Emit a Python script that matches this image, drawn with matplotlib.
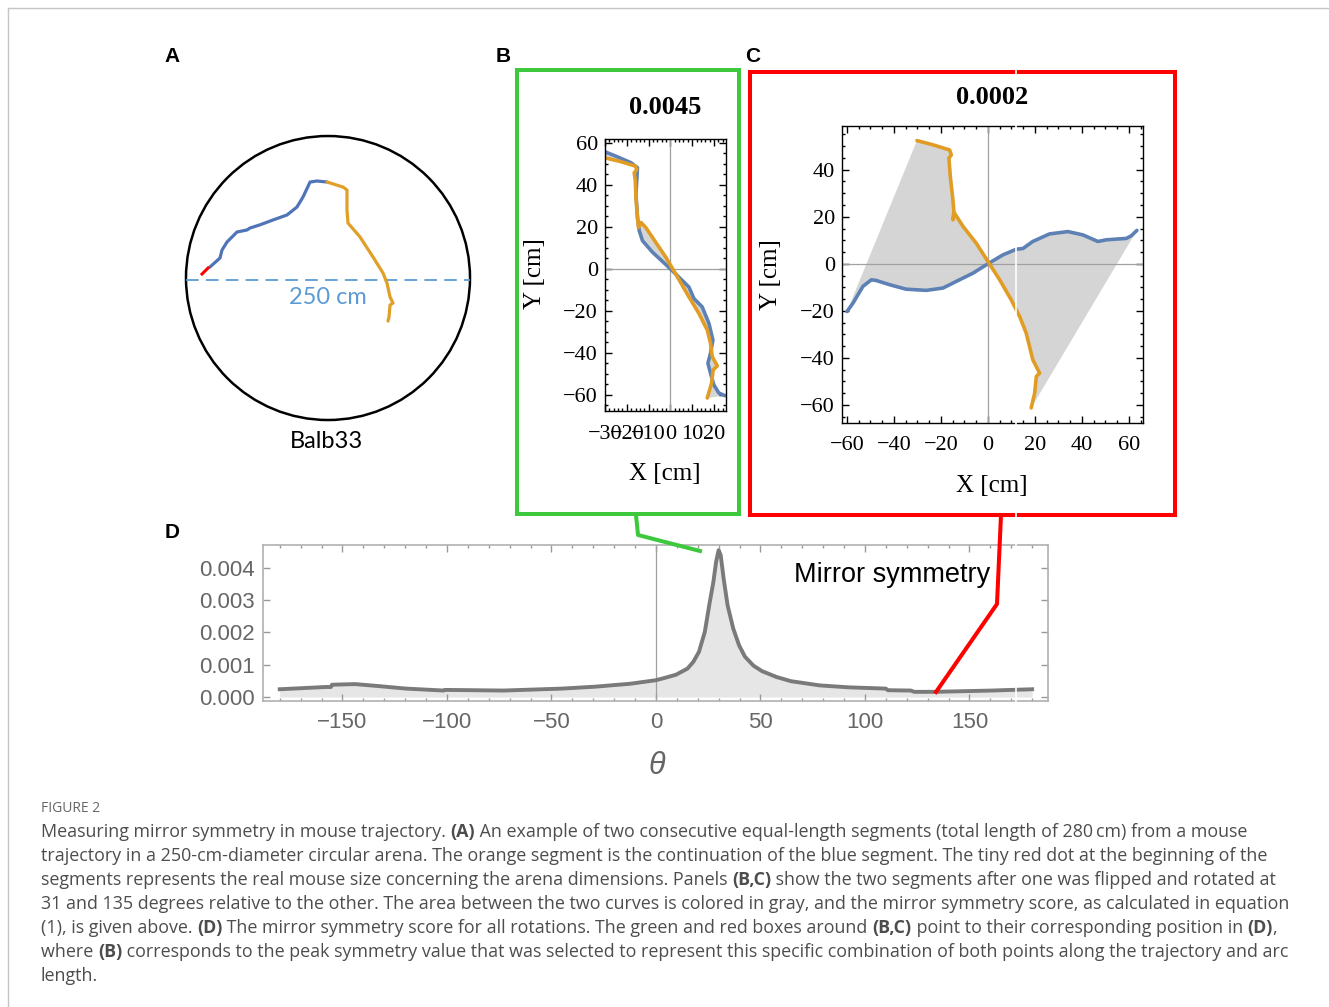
import matplotlib
matplotlib.use("Agg")
import matplotlib.pyplot as plt
import numpy as np
from matplotlib.patches import Circle, Rectangle
from matplotlib.ticker import MultipleLocator, FormatStrFormatter

W, H = 1329, 1007
BLUE = '#5e81b5'
ORANGE = '#e19c24'
FILL = '#d5d5d5'

# ---- panel A: trajectory in the arena (cm, arena centre at 0,0) ----
a_blue_x = [-103.9, -95.1, -93.3, -88.9, -80.1, -71.3, -68.7, -59.9, -48.4, -36.1, -27.3, -22.0, -15.8, -9.7, -0.9]
a_blue_y = [9.7, 17.6, 24.6, 31.7, 40.5, 42.3, 44.0, 46.8, 51.1, 55.5, 62.5, 71.3, 84.5, 85.4, 84.5]
a_orange_x = [-0.9, 13.2, 16.7, 16.7, 17.6, 28.2, 39.6, 48.4, 51.9, 54.6, 57.2, 54.6, 53.7, 52.8]
a_orange_y = [84.5, 80.1, 77.5, 59.9, 48.4, 36.1, 18.5, 4.4, -4.4, -16.7, -22.0, -23.8, -34.3, -37.9]
mouse_x = [-110.9, -105.6]
mouse_y = [3.5, 8.8]
arena_radius = 125

# ---- panel B: rotation 31 deg ----
b_blue_x = [-30.0, -25.0, -18.1, -15.1, -15.8, -15.1, -14.3, -12.8, -8.2, 0.0, 8.5, 10.8, 14.6, 17.7, 19.5, 18.4, 17.2, 18.4, 19.9, 22.2, 25.0]
b_blue_y = [55.8, 53.7, 50.6, 48.2, 35.5, 24.5, 18.2, 13.4, 7.9, 0.0, -8.7, -14.2, -18.2, -26.1, -34.0, -40.3, -45.0, -49.8, -55.3, -59.2, -60.5]
b_orange_x = [-30.0, -23.4, -16.1, -15.4, -16.6, -16.1, -15.8, -15.1, -14.6, -13.5, -11.3, -6.7, -2.1, 2.4, 8.5, 13.1, 16.9, 18.4, 19.2, 21.5, 19.6, 18.9, 16.9]
b_orange_y = [52.9, 51.3, 49.0, 47.4, 45.8, 41.9, 34.0, 24.5, 19.7, 22.1, 19.7, 12.6, 5.5, -2.4, -13.4, -21.3, -29.2, -35.5, -41.9, -46.3, -48.2, -54.5, -61.6]
b_score = '0.0045'

# ---- panel C: rotation 135 deg ----
c_blue_x = [-60.0, -57.4, -53.2, -49.6, -47.5, -41.8, -34.8, -26.2, -19.1, -13.5, -6.4, 0.0, 6.4, 12.1, 14.9, 19.1, 26.2, 34.0, 40.4, 46.8, 50.4, 58.9, 61.0, 63.4]
c_blue_y = [-20.3, -16.7, -9.6, -6.8, -7.1, -8.9, -10.8, -11.3, -10.3, -7.5, -4.0, 0.0, 3.8, 6.2, 6.5, 9.5, 12.7, 13.7, 12.3, 9.5, 10.2, 10.8, 11.9, 14.2]
c_orange_x = [-30.2, -23.4, -16.3, -15.6, -16.6, -16.0, -14.9, -14.5, -14.9, -14.2, -10.6, -5.0, 0.0, 5.0, 9.9, 13.5, 16.3, 19.1, 22.0, 20.6, 19.9, 18.4]
c_orange_y = [52.4, 50.6, 48.4, 46.3, 44.9, 37.1, 27.2, 22.2, 18.7, 21.5, 15.9, 8.8, 1.0, -6.8, -15.3, -22.4, -29.5, -40.8, -46.5, -47.9, -55.0, -61.3]
c_score = '0.0002'

# ---- panel D: mirror symmetry score vs rotation ----
theta = [-180, -158, -155.5, -155, -144, -133, -119.5, -101.5, -101, -73,
         -59, -45, -29, -12.4, 0, 4.1, 9.6, 15.1, 17.9, 20.6,
         23.4, 25.5, 27.5, 28.8, 30.0, 31.0, 32.4, 34.3, 37.0, 39.8,
         42.6, 46.7, 50.8, 57.7, 64.6, 78.3, 92, 110, 111, 122,
         123.6, 133, 147, 160.7, 180]
score = [0.00024, 0.00031, 0.00031, 0.00038, 0.00040, 0.00034, 0.00026, 0.00020, 0.00022, 0.00020,
         0.00023, 0.00026, 0.00032, 0.00041, 0.00052, 0.00059, 0.00069, 0.00088, 0.00109, 0.00140,
         0.00202, 0.00284, 0.00357, 0.00419, 0.00455, 0.00439, 0.00367, 0.00284, 0.00212, 0.00160,
         0.00125, 0.00097, 0.00080, 0.00062, 0.00049, 0.00036, 0.00030, 0.00026, 0.00021, 0.00020,
         0.00016, 0.00016, 0.00018, 0.00020, 0.00024]

caption = [
    [("Measuring mirror symmetry in mouse trajectory. ", 0), ("(A)", 1),
     (" An example of two consecutive equal-length segments (total length of 280\u2009cm) from a mouse", 0)],
    [("trajectory in a 250-cm-diameter circular arena. The orange segment is the continuation of the blue segment. The tiny red dot at the beginning of the", 0)],
    [("segments represents the real mouse size concerning the arena dimensions. Panels ", 0), ("(B,C)", 1),
     (" show the two segments after one was flipped and rotated at", 0)],
    [("31 and 135 degrees relative to the other. The area between the two curves is colored in gray, and the mirror symmetry score, as calculated in equation", 0)],
    [("(1), is given above. ", 0), ("(D)", 1), (" The mirror symmetry score for all rotations. The green and red boxes around ", 0),
     ("(B,C)", 1), (" point to their corresponding position in ", 0), ("(D)", 1), (",", 0)],
    [("where ", 0), ("(B)", 1), (" corresponds to the peak symmetry value that was selected to represent this specific combination of both points along the trajectory and arc", 0)],
    [("length.", 0)],
]

plt.rcParams['font.family'] = ['Liberation Serif', 'DejaVu Sans']
fig = plt.figure(figsize=(W / 100, H / 100), dpi=100)


def px_rect(x0, y0, x1, y1):
    return [x0 / W, 1 - y1 / H, (x1 - x0) / W, (y1 - y0) / H]


# panel A
ax_a = fig.add_axes(px_rect(176, 130, 480, 430))
ax_a.set_xlim(-133.8, 133.8)
ax_a.set_ylim(-133.8, 130.3)
ax_a.axis('off')
ax_a.add_patch(Circle((0, 0), arena_radius, fill=False, lw=1.8, color='black'))
ax_a.plot([-arena_radius, arena_radius], [-1.5, -1.5], color='#5b9bd5', lw=1.3, ls=(0, (7, 4)))
ax_a.plot(a_blue_x, a_blue_y, color='#4f74b8', lw=2.3, solid_capstyle='round', solid_joinstyle='round')
ax_a.plot(a_orange_x, a_orange_y, color='#e0a028', lw=2.3, solid_capstyle='round', solid_joinstyle='round')
ax_a.plot(mouse_x, mouse_y, color='red', lw=2.2)


def traj_panel(rect, bx, by, ox, oy, xlim, ylim, xmaj, xmin, ymaj, ymin, xpad, ypad):
    ax = fig.add_axes(rect)
    ax.fill(np.r_[bx, ox[::-1]], np.r_[by, oy[::-1]], color=FILL, lw=0)
    ax.axhline(0, color='#a0a0a0', lw=0.9)
    ax.axvline(0, color='#a0a0a0', lw=0.9)
    ax.plot(bx, by, color=BLUE, lw=2.6, solid_capstyle='round')
    ax.plot(ox, oy, color=ORANGE, lw=2.6, solid_capstyle='round')
    ax.set_xlim(*xlim)
    ax.set_ylim(*ylim)
    ax.xaxis.set_major_locator(MultipleLocator(xmaj))
    ax.xaxis.set_minor_locator(MultipleLocator(xmin))
    ax.yaxis.set_major_locator(MultipleLocator(ymaj))
    ax.yaxis.set_minor_locator(MultipleLocator(ymin))
    ax.tick_params(which='both', direction='in', top=True, right=True, width=1.0, color='black')
    ax.tick_params(which='major', length=5, labelsize=16)
    ax.tick_params(axis='x', pad=xpad)
    ax.tick_params(axis='y', pad=ypad)
    ax.tick_params(which='minor', length=2.5)
    for s in ax.spines.values():
        s.set_linewidth(1.0)
    return ax


ax_b = traj_panel(px_rect(605, 139, 726, 411), np.array(b_blue_x), np.array(b_blue_y),
                  np.array(b_orange_x), np.array(b_orange_y),
                  (-30, 25.5), (-67.8, 61.9), 10, 2, 20, 5, 10, 5)
ax_c = traj_panel(px_rect(842, 126, 1143, 423), np.array(c_blue_x), np.array(c_blue_y),
                  np.array(c_orange_x), np.array(c_orange_y),
                  (-62.1, 66.0), (-67.7, 58.6), 20, 5, 20, 5, 9, 5)

# panel D
ax_d = fig.add_axes(px_rect(263, 545, 1048, 701))
ax_d.fill_between(theta, score, 0, color='#e6e6e6', lw=0)
ax_d.axvline(0, color='#a0a0a0', lw=0.9)
ax_d.plot(theta, score, color='#7a7a7a', lw=2.8, solid_joinstyle='round')
ax_d.set_xlim(-188, 187.6)
ax_d.set_ylim(-0.000124, 0.00471)
ax_d.xaxis.set_major_locator(MultipleLocator(50))
ax_d.xaxis.set_minor_locator(MultipleLocator(10))
ax_d.yaxis.set_major_locator(MultipleLocator(0.001))
ax_d.yaxis.set_major_formatter(FormatStrFormatter('%.3f'))
ax_d.tick_params(which='both', direction='in', top=True, right=True, color='#999999', width=1.0)
ax_d.tick_params(which='major', length=5, labelsize=16, labelcolor='#666666',
                 labelfontfamily='Liberation Sans')
ax_d.tick_params(axis='x', pad=8)
ax_d.tick_params(axis='y', pad=6)
ax_d.tick_params(which='minor', length=2.5)
for s in ax_d.spines.values():
    s.set_color('#b0b0b0')
    s.set_linewidth(1.2)

# overlay in pixel coordinates for boxes, pointers and text
ov = fig.add_axes([0, 0, 1, 1])
ov.set_xlim(0, W)
ov.set_ylim(H, 0)
ov.axis('off')

ov.plot([8, W], [8, 8], color='#c4c4c4', lw=1)
ov.plot([8, 8], [8, H], color='#c4c4c4', lw=1)

ov.add_patch(Rectangle((517, 70), 222, 444, fill=False, ec='#3ec83e', lw=2.9))
ov.add_patch(Rectangle((750, 72), 425, 443, fill=False, ec='#ff0000', lw=2.9))
ov.plot([636, 638, 700], [515, 535, 551], color='#3ec83e', lw=2.9)
ov.plot([1001, 997, 936], [515, 604, 692], color='#ff0000', lw=2.9)
ov.plot([1016, 1016], [62, 706], color='white', lw=1.2)

sans_b = dict(family='Liberation Sans', fontweight='bold', fontsize=15, va='center', ha='center')
ov.text(172, 57, 'A', **sans_b)
ov.text(503, 57, 'B', **sans_b)
ov.text(753, 57, 'C', **sans_b)
ov.text(172, 532, 'D', **sans_b)

ov.text(328, 298, '250 cm', family='Lato', fontsize=17, color='#5b9bd5', ha='center', va='center')
ov.text(326, 441, 'Balb33', family='Lato', fontsize=17, color='black', ha='center', va='center')

ov.text(665, 108, b_score, fontsize=19, fontweight='bold', ha='center', va='center')
ov.text(992, 97, c_score, fontsize=19, fontweight='bold', ha='center', va='center')
ov.text(535, 274, 'Y [cm]', fontsize=18, rotation=90, ha='center', va='center')
ov.text(771, 275, 'Y [cm]', fontsize=18, rotation=90, ha='center', va='center')
ov.text(665, 474, 'X [cm]', fontsize=18, ha='center', va='center')
ov.text(992, 486, 'X [cm]', fontsize=18, ha='center', va='center')

ov.text(892, 575, 'Mirror symmetry', family='Liberation Sans', fontsize=19.5, ha='center', va='center')
ov.text(657, 766, '\u03b8', family='Liberation Sans', style='italic', fontsize=22,
        color='#666666', ha='center', va='center')

# caption
ov.text(41, 808, 'FIGURE 2', family='Open Sans', fontsize=10, color='#666666', va='center')
renderer = fig.canvas.get_renderer()


def line_width(parts, size):
    total = 0
    for txt, bold in parts:
        t = ov.text(0, 0, txt, family='Open Sans', fontsize=size,
                    fontweight='bold' if bold else 'normal')
        total += t.get_window_extent(renderer=renderer).width
        t.remove()
    return total


cap_size = 12 * 1246 / line_width(caption[3], 12)
for i, parts in enumerate(caption):
    x = 41
    y = 832 + 24 * i
    for txt, bold in parts:
        t = ov.text(x, y, txt, family='Open Sans', fontsize=cap_size, color='#4d4d4d',
                    fontweight='bold' if bold else 'normal', va='center', ha='left')
        x += t.get_window_extent(renderer=renderer).width

fig.savefig('out.png', dpi=100)
